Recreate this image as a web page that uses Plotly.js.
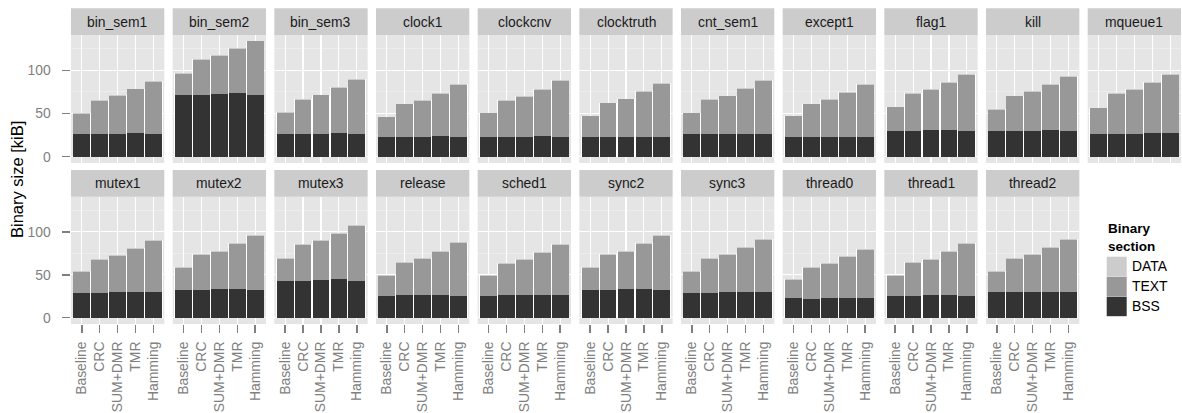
<!DOCTYPE html>
<html>
<head>
<meta charset="utf-8">
<script src="https://cdn.plot.ly/plotly-3.0.1.min.js"></script>
<style>html,body{margin:0;padding:0;background:#fff;}#chart{width:1182px;height:413px;}</style>
</head>
<body>
<div id="chart"></div>
<script>
// ---- data (kiB) ----
const benchmarks = ["bin_sem1","bin_sem2","bin_sem3","clock1","clockcnv","clocktruth","cnt_sem1","except1","flag1","kill","mqueue1",
                    "mutex1","mutex2","mutex3","release","sched1","sync2","sync3","thread0","thread1","thread2"];
const variants = ["Baseline","CRC","SUM+DMR","TMR","Hamming"];
const sections = ["BSS","TEXT","DATA"];
const sectionColors = ["#333333","#989898","#CCCCCC"];
const legendOrder = ["DATA","TEXT","BSS"];

const bssKiB = [
  [26,26,26,27,26],
  [71.3,71.3,72.4,73.5,71.3],
  [26,26,26,27,26],
  [23,23,23,24,23],
  [23,23,23,24,23],
  [23,23,23,23,23],
  [26,26,26,26,26],
  [23,23,23,23,23],
  [29.5,29.5,31,31,29.5],
  [29.5,29.5,29.5,31,29.5],
  [26,26,26,27,27],
  [28.8,28.8,30,30,30],
  [32.3,32.3,33.5,33.5,32.3],
  [42.3,42.3,43.8,45,42.3],
  [25.4,26.5,26.5,26.5,25.4],
  [25.4,26.5,26.5,26.5,26.5],
  [32.3,32.3,33.5,33.5,32.3],
  [28.8,28.8,30,30,30],
  [23.1,21.9,23.1,23.1,23.1],
  [25.4,25.4,26.5,26.5,25.4],
  [30,30,30,30,30]
];
const textKiB = [
  [24,39,44,51,61],
  [24.2,40.5,44,51.1,62.2],
  [24.9,40,45,52.2,62.5],
  [22.5,37.6,41.5,48.3,59.7],
  [27.2,41.5,45.8,52.9,64.4],
  [23.7,38.8,43.4,52,60.9],
  [24.2,39.7,43.9,52.5,61.4],
  [23.7,37.6,42.3,50.4,59.7],
  [27.6,42.8,45.9,54,64.8],
  [24.2,40.4,45.1,51.7,62.5],
  [30,46.3,50.9,58,67.3],
  [24.8,38.7,42,50.2,59.4],
  [25.9,40.9,43.2,52.4,62.9],
  [25.9,42.5,45.6,52.5,64.4],
  [23.6,37.5,42.1,50.2,61.7],
  [23.6,36.3,41,49,58.3],
  [25.9,40.9,43.2,52.4,62.9],
  [24.8,39.8,43.2,51.3,60.5],
  [21.3,36.3,39.7,47.8,55.9],
  [23.6,38.6,41,50.2,60.5],
  [23.6,38.6,43.2,51.3,60.5]
];
const dataKiB = [
  [1,1,1,1,1],[1,1,1,1,1],[1,1,1,1,1],[1,1,1,1,1],[1,1,1,1,1],[1,1,1,1,1],[1,1,1,1,1],
  [1,1,1,1,1],[1,1,1,1,1],[1,1,1,1,1],[1,1,1,1,1],[1,1,1,1,1],[1,1,1,1,1],[1,1,1,1,1],
  [1,1,1,1,1],[1,1,1,1,1],[1,1,1,1,1],[1,1,1,1,1],[1,1,1,1,1],[1,1,1,1,1],[1,1,1,1,1]
];
const yTicks = [0,50,100];
const yMinorTicks = [25,75,125];

// ---- layout geometry (pixels) ----
const W = 1182, H = 413;
const nCols = 11;
const nPanels = benchmarks.length;
const colX0 = 71, colPitch = 101.67, panelW = 93.3;
const rows = [{stripTop: 8.3, top: 35, bottom: 163}, {stripTop: 170, top: 196.7, bottom: 324}];
const px = v => v / W;
const py = v => 1 - v / H;
const FONT = "Liberation Sans, Arial, Helvetica, sans-serif";
const GREY50 = "#7F7F7F";
const SMALL = 13.9;

const traces = [];
const layout = {
  width: W, height: H,
  margin: {l: 0, r: 0, t: 0, b: 0},
  paper_bgcolor: "#FFFFFF",
  plot_bgcolor: "#E5E5E5",
  barmode: "stack",
  bargap: 0,
  showlegend: false,
  font: {family: FONT, size: SMALL, color: "#000000"},
  shapes: [],
  annotations: []
};

const valuesBySection = [bssKiB, textKiB, dataKiB];

benchmarks.forEach((name, i) => {
  const r = i < nCols ? 0 : 1;
  const c = i < nCols ? i : i - nCols;
  const row = rows[r];
  const x0 = colX0 + c * colPitch, x1 = x0 + panelW;
  const sfx = i === 0 ? "" : String(i + 1);
  const ovl = String(nPanels + i + 1);   // overlay x-axis holding the visible bars

  // white backing under each stacked bar (gives the thin white separation between bars)
  const totals = variants.map((v, j) => bssKiB[i][j] + textKiB[i][j] + dataKiB[i][j]);
  traces.push({
    type: "bar", name: "backing", x: variants, y: totals,
    xaxis: "x" + sfx, yaxis: "y" + sfx,
    width: 1.0,
    marker: {color: "#FFFFFF", line: {width: 0}},
    hoverinfo: "skip"
  });

  sections.forEach((sec, k) => {
    traces.push({
      type: "bar",
      name: sec,
      x: variants,
      y: valuesBySection[k][i],
      xaxis: "x" + ovl,
      yaxis: "y" + sfx,
      width: 0.94,
      marker: {color: sectionColors[k], line: {width: 0}},
      hoverinfo: "x+y+name"
    });
  });

  const bottomRow = (r === 1);
  layout["xaxis" + sfx] = {
    domain: [px(x0), px(x1)],
    anchor: "y" + sfx,
    type: "category",
    categoryorder: "array",
    categoryarray: variants,
    range: [-0.6, 4.6],
    showgrid: true, gridcolor: "#FFFFFF", gridwidth: 1.1,
    zeroline: false, showline: false,
    ticks: bottomRow ? "outside" : "",
    ticklen: 8, tickwidth: 1.5, tickcolor: GREY50,
    showticklabels: bottomRow,
    tickangle: -90,
    ticklabelstandoff: 3,
    tickfont: {family: FONT, size: SMALL, color: GREY50},
    fixedrange: true
  };
  layout["xaxis" + ovl] = {
    overlaying: "x" + sfx,
    anchor: "y" + sfx,
    type: "category",
    categoryorder: "array",
    categoryarray: variants,
    range: [-0.6, 4.6],
    showgrid: false, zeroline: false, showline: false,
    ticks: "", showticklabels: false,
    fixedrange: true
  };
  layout["yaxis" + sfx] = {
    domain: [py(row.bottom), py(row.top)],
    anchor: "x" + sfx,
    range: [-7.3, 141],
    tickmode: "array",
    tickvals: yTicks,
    ticktext: yTicks.map(String),
    showgrid: true, gridcolor: "#FFFFFF", gridwidth: 1.1,
    minor: {tickmode: "array", tickvals: yMinorTicks, showgrid: true, gridcolor: "#F2F2F2", gridwidth: 0.6, ticks: ""},
    zeroline: false, showline: false,
    ticks: c === 0 ? "outside" : "",
    ticklen: 8.5, tickwidth: 1.5, tickcolor: GREY50,
    showticklabels: c === 0,
    ticklabelstandoff: 8,
    tickfont: {family: FONT, size: SMALL, color: GREY50},
    fixedrange: true
  };

  // facet strip
  layout.shapes.push({
    type: "rect", xref: "paper", yref: "paper",
    x0: px(x0), x1: px(x1), y0: py(row.top), y1: py(row.stripTop),
    fillcolor: "#CCCCCC", line: {width: 0}, layer: "below"
  });
  layout.annotations.push({
    xref: "paper", yref: "paper",
    x: px((x0 + x1) / 2), y: py((row.stripTop + row.top) / 2),
    xanchor: "center", yanchor: "middle",
    text: name, showarrow: false,
    font: {family: FONT, size: SMALL, color: "#1A1A1A"}
  });
});

// y-axis title
layout.annotations.push({
  xref: "paper", yref: "paper",
  x: px(17), y: py(180),
  xanchor: "center", yanchor: "middle",
  text: "Binary size [kiB]", textangle: -90, showarrow: false,
  font: {family: FONT, size: 16.5, color: "#000000"}
});

// legend (drawn manually, ggplot style)
const legX = 1106.7, keyW = 20, keyH = 19.5, keyTop = 256.7;
layout.annotations.push({
  xref: "paper", yref: "paper", x: px(legX - 1), y: py(237),
  xanchor: "left", yanchor: "middle", align: "left",
  text: "<b>Binary</b><br><b>section</b>", showarrow: false,
  font: {family: FONT, size: 13.5, color: "#000000"}
});
legendOrder.forEach((sec, j) => {
  const k = sections.indexOf(sec);
  const top = keyTop + j * (keyH + 0.5);
  layout.shapes.push({
    type: "rect", xref: "paper", yref: "paper",
    x0: px(legX), x1: px(legX + keyW), y0: py(top + keyH), y1: py(top),
    fillcolor: sectionColors[k], line: {width: 0}
  });
  layout.annotations.push({
    xref: "paper", yref: "paper", x: px(legX + keyW + 3.5), y: py(top + keyH / 2),
    xanchor: "left", yanchor: "middle", text: sec, showarrow: false,
    font: {family: FONT, size: SMALL, color: "#000000"}
  });
});

Plotly.newPlot("chart", traces, layout, {staticPlot: true, displayModeBar: false});
</script>
</body>
</html>
